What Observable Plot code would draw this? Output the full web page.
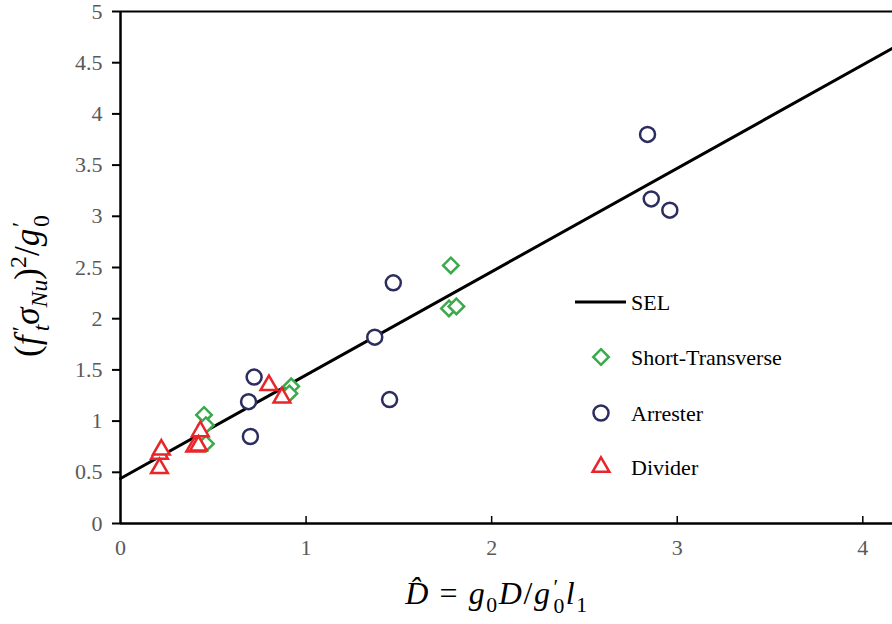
<!DOCTYPE html>
<html>
<head>
<meta charset="utf-8">
<script src="https://cdn.jsdelivr.net/npm/d3@7"></script>
<script src="https://cdn.jsdelivr.net/npm/@observablehq/plot@0.6"></script>
<style>
  html, body { margin: 0; padding: 0; background: #fff; }
  #wrap { position: relative; width: 892px; height: 624px; overflow: hidden; font-family: "Liberation Serif", "DejaVu Serif", serif; }
  #chart svg text { font-family: "Liberation Serif", "DejaVu Serif", serif; }
  .lab { position: absolute; font-family: "Liberation Serif", "DejaVu Serif", serif; color: #000; white-space: nowrap; line-height: 1; }
  .lab i { font-style: italic; }
  .lab sub, .lab sup { font-size: 68%; line-height: 0; }
  .stk { display: inline-block; vertical-align: -0.42em; font-size: 68%; line-height: 0.9; text-align: left; margin-left: 0.08em; }
  .stk span { display: block; }
  .stk.f { margin-left: 0.18em; }
  .sp { display: inline-block; width: 0.3em; }
  #ylab { left: 31px; top: 286px; transform: translate(-50%, -50%) rotate(-90deg); font-size: 35px; }
  #xlab { left: 497px; top: 597px; transform: translate(-50%, -50%); font-size: 32px; letter-spacing: 0.05em; }
  #legend { position: absolute; left: 570px; top: 280px; }
</style>
</head>
<body>
<div id="wrap">
  <div id="chart"></div>
  <div class="lab" id="ylab">(<i>f</i><span class="stk f"><span>&prime;</span><span><i>t</i></span></span><i>&sigma;</i><sub><i>Nu</i></sub>)<sup>2</sup>/<i>g</i><span class="stk"><span>&prime;</span><span>0</span></span></div>
  <div class="lab" id="xlab"><i>D&#770;</i><span class="sp"></span>=<span class="sp"></span><i>g</i><sub>0</sub><i>D</i>/<i>g</i><span class="stk"><span>&prime;</span><span>0</span></span><i>l</i><sub>1</sub></div>
  <div id="legend"></div>
</div>
<script>
// ---- data ----
const xTicks = [0, 1, 2, 3, 4];
const yTicks = [0, 0.5, 1, 1.5, 2, 2.5, 3, 3.5, 4, 4.5, 5];

const selX = [0, 4.16];
const selY = [0.44, 4.64];

const shortX = [1.78, 1.77, 1.81, 0.92, 0.91, 0.45, 0.46, 0.46];
const shortY = [2.52, 2.10, 2.12, 1.34, 1.27, 1.06, 0.96, 0.78];

const arrX = [2.84, 2.86, 2.96, 1.47, 1.37, 1.45, 0.72, 0.69, 0.70];
const arrY = [3.80, 3.17, 3.06, 2.35, 1.82, 1.21, 1.43, 1.19, 0.85];

const divX = [0.21, 0.22, 0.21, 0.43, 0.40, 0.42, 0.80, 0.87];
const divY = [0.68, 0.72, 0.54, 0.90, 0.75, 0.76, 1.35, 1.23];

const seriesNames = ["SEL", "Short-Transverse", "Arrester", "Divider"];
const colors = { line: "#000000", short: "#3aaa4a", arr: "#2b2d5e", div: "#e8262a" };
const serif = '"Liberation Serif", "DejaVu Serif", serif';

// ---- build tables ----
const sel = selX.map((x, i) => ({ x, y: selY[i] }));
const shortPts = shortX.map((x, i) => ({ x, y: shortY[i] }));
const arrPts = arrX.map((x, i) => ({ x, y: arrY[i] }));
const divPts = divX.map((x, i) => ({ x, y: divY[i] }));

const chart = Plot.plot({
  width: 892,
  height: 624,
  marginLeft: 120,
  marginRight: 0,
  marginTop: 11,
  marginBottom: 101,
  style: { fontFamily: serif, background: "white", overflow: "visible" },
  x: { domain: [0, 4.16] },
  y: { domain: [0, 5] },
  marks: [
    Plot.axisY(yTicks, { tickSize: 8, tickPadding: 10, fontSize: 22, color: "#595959", stroke: "#000", strokeWidth: 2, tickFormat: d => String(d), label: null }),
    Plot.axisX(xTicks, { tickSize: 0, tickPadding: 16, fontSize: 22, color: "#595959", tickFormat: d => String(d), label: null }),
    Plot.axisX(xTicks.slice(1), { tickSize: -7, stroke: "#000", strokeWidth: 1.5, tickFormat: () => "", label: null }),
    Plot.ruleY([0], { stroke: "#000", strokeWidth: 2.5 }),
    Plot.ruleY([5], { stroke: "#000", strokeWidth: 2 }),
    Plot.ruleX([0], { stroke: "#000", strokeWidth: 2.5 }),
    Plot.line(sel, { x: "x", y: "y", stroke: colors.line, strokeWidth: 3 }),
    Plot.dot(shortPts, { x: "x", y: "y", symbol: "diamond2", r: 7, stroke: colors.short, strokeWidth: 2.5, fill: "white" }),
    Plot.dot(arrPts, { x: "x", y: "y", symbol: "circle", r: 7.5, stroke: colors.arr, strokeWidth: 2.5, fill: "white" }),
    Plot.dot(divPts, { x: "x", y: "y", symbol: "triangle2", r: 8, stroke: colors.div, strokeWidth: 2.5, fill: "white" })
  ]
});
document.getElementById("chart").appendChild(chart);

// ---- legend ----
const lg = d3.select("#legend").append("svg").attr("width", 240).attr("height", 210)
  .style("font-family", serif);
const rowY = [22, 77, 133, 187];
const symOf = [null, d3.symbolDiamond2, d3.symbolCircle, d3.symbolTriangle2];
const sizeOf = [0, Math.PI * 49, Math.PI * 56.25, Math.PI * 64];
const colOf = [colors.line, colors.short, colors.arr, colors.div];
seriesNames.forEach((name, i) => {
  const g = lg.append("g").attr("transform", `translate(0,${rowY[i]})`);
  if (i === 0) {
    g.append("line").attr("x1", 5).attr("x2", 56).attr("y1", 0).attr("y2", 0).attr("stroke", "#000").attr("stroke-width", 3);
  } else {
    g.append("path").attr("transform", "translate(31,0)").attr("d", d3.symbol(symOf[i], sizeOf[i])())
      .attr("fill", "white").attr("stroke", colOf[i]).attr("stroke-width", 2.5);
  }
  g.append("text").attr("x", 61).attr("y", 0).attr("dy", "0.35em").attr("font-size", 22)
    .attr("font-family", serif).attr("fill", "#000").text(name);
});
</script>
</body>
</html>
